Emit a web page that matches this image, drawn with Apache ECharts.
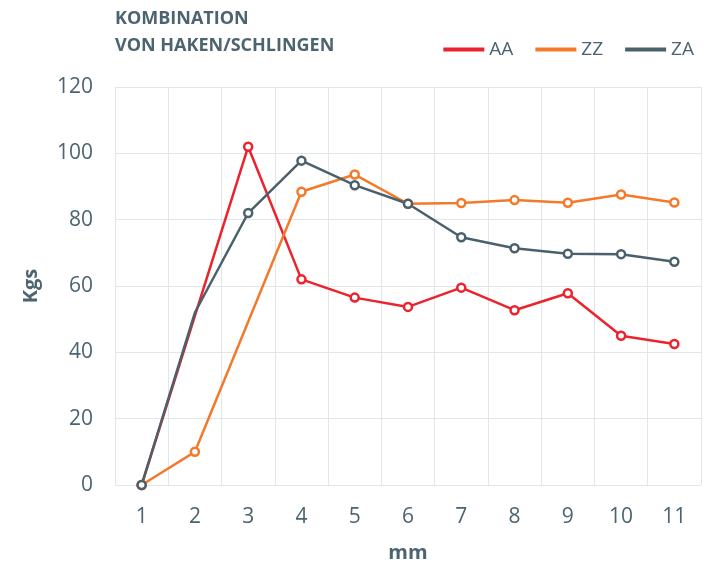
<!DOCTYPE html>
<html>
<head>
<meta charset="utf-8">
<script src="https://cdn.jsdelivr.net/npm/echarts@6/dist/echarts.min.js"></script>
<style>
  html, body { margin: 0; padding: 0; background: #fff; }
  #chart { width: 714px; height: 570px; }
</style>
</head>
<body>
<div id="chart"></div>
<script>
// x categories (mm)
const categories = ['1', '2', '3', '4', '5', '6', '7', '8', '9', '10', '11']
// Kgs per series, null = no measured point (line just passes through)
const aaValues = [0, null, 102, 62, 56.5, 53.7, 59.5, 52.7, 57.8, 45, 42.5]
const zzValues = [0, 10, null, 88.4, 93.6, 84.8, 85, 85.9, 85.1, 87.6, 85.2]
const zaValues = [0, 52, 82, 97.8, 90.4, 84.8, 74.7, 71.4, 69.7, 69.6, 67.3]
// points drawn without a marker
const zaHidden = [1]

const textColor = '#4c6470'
const gridColor = '#e1e6e9'
const font = 'Open Sans'
const colors = { AA: '#ec222c', ZZ: '#f37a2a', ZA: '#4a606b' }

function buildSeries(name, values, hidden) {
  const color = colors[name]
  return {
    name: name,
    type: 'line',
    connectNulls: true,
    symbol: 'circle',
    symbolSize: 8,
    data: values.map((v, i) => hidden && hidden.indexOf(i) >= 0 ? { value: v, symbol: 'none' } : v),
    lineStyle: { color: color, width: 2.5 },
    itemStyle: { color: '#fff', borderColor: color, borderWidth: 2.5 },
    emphasis: { disabled: true }
  }
}

const chart = echarts.init(document.getElementById('chart'))
chart.setOption({
  animation: false,
  title: {
    text: 'KOMBINATION\nVON HAKEN/SCHLINGEN',
    left: 110,
    top: 0,
    textStyle: { fontFamily: font, fontSize: 18, fontWeight: 'bold', color: textColor, lineHeight: 27 }
  },
  legend: {
    right: 15,
    top: 35,
    itemWidth: 41,
    itemHeight: 4,
    itemGap: 22,
    icon: 'rect',
    textStyle: { fontFamily: font, fontSize: 19, color: textColor },
    data: ['AA', 'ZZ', 'ZA'].map(n => ({ name: n, itemStyle: { color: colors[n], borderWidth: 0 } }))
  },
  grid: { left: 115, right: 13, top: 87, bottom: 85, outerBoundsMode: 'none' },
  xAxis: {
    type: 'category',
    data: categories,
    boundaryGap: true,
    name: 'mm',
    nameLocation: 'middle',
    nameGap: 58,
    nameTextStyle: { fontFamily: font, fontSize: 20, fontWeight: 'bold', color: textColor },
    axisLine: { show: false },
    axisTick: { show: false },
    axisLabel: { fontFamily: font, fontSize: 21, color: textColor, margin: 22 },
    splitLine: { show: true, lineStyle: { color: gridColor, width: 1 } }
  },
  yAxis: {
    type: 'value',
    min: 0,
    max: 120,
    interval: 20,
    name: 'Kgs',
    nameLocation: 'middle',
    nameGap: 74,
    nameTextStyle: { fontFamily: font, fontSize: 20, fontWeight: 'bold', color: textColor },
    axisLine: { show: false },
    axisTick: { show: false },
    axisLabel: { fontFamily: font, fontSize: 21, color: textColor, margin: 22 },
    splitLine: { lineStyle: { color: gridColor, width: 1 } }
  },
  series: [
    buildSeries('AA', aaValues),
    buildSeries('ZZ', zzValues),
    buildSeries('ZA', zaValues, zaHidden)
  ]
})
</script>
</body>
</html>
